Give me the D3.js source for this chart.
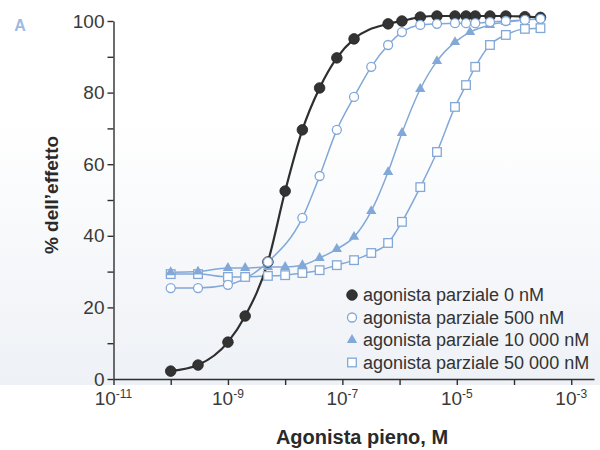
<!DOCTYPE html>
<html lang="it">
<head>
<meta charset="UTF-8">
<title>Agonista pieno e agonista parziale</title>
<style>
  body { margin: 0; background: #fff; }
  svg { display: block; font-family: "Liberation Sans", Arial, sans-serif; }
</style>
</head>
<body>
<div id="chart"></div>
<script src="https://cdn.jsdelivr.net/npm/d3@7"></script>
<script>

// concentrazione dell'agonista pieno (M) e % dell'effetto, una coppia di array per serie
const conc0 = [1e-10, 3e-10, 1e-9, 2e-9, 5e-9, 1e-8, 2e-8, 4e-8, 8e-8, 1.6e-7, 6.3e-7, 1.1e-6, 2.3e-6, 4.5e-6, 9.3e-6, 1.45e-5, 2.1e-5, 3.8e-5, 7.2e-5, 1.55e-4, 2.9e-4];
const eff0  = [2.2, 3.9, 10.3, 17.6, 32.7, 52.5, 69.6, 81.3, 89.7, 95, 99.2, 100, 101.1, 101.4, 101.4, 101.4, 101.4, 101.4, 101.4, 101.2, 101];

const conc500 = [1e-10, 3e-10, 1e-9, 5e-9, 2e-8, 4e-8, 8e-8, 1.6e-7, 3.2e-7, 6.3e-7, 1.1e-6, 2.3e-6, 4.5e-6, 9.3e-6, 1.45e-5, 2.1e-5, 3.8e-5, 7.2e-5, 1.55e-4, 2.9e-4];
const eff500  = [25.4, 25.4, 26.3, 32.7, 45, 56.7, 69.6, 78.8, 87.2, 93.3, 96.9, 98.9, 99.2, 99.4, 99.4, 99.4, 99.7, 100, 100.3, 100.6];

const conc10000 = [1e-10, 3e-10, 1e-9, 2e-9, 5e-9, 1e-8, 2e-8, 4e-8, 8e-8, 1.6e-7, 3.2e-7, 6.3e-7, 1.1e-6, 2.3e-6, 4.5e-6, 9.3e-6, 1.7e-5, 3.8e-5, 7.2e-5, 1.55e-4];
const eff10000  = [29.8, 30, 31, 31, 31.3, 31.3, 31.8, 33.8, 36.3, 39.7, 46.9, 57.8, 68.7, 81, 88.8, 94.1, 96.9, 98.9, 99.7, 100.3];

const conc50000 = [1e-10, 3e-10, 1e-9, 2e-9, 5e-9, 1e-8, 2e-8, 4e-8, 8e-8, 1.6e-7, 3.2e-7, 6.3e-7, 1.1e-6, 2.3e-6, 4.5e-6, 9.3e-6, 1.45e-5, 2.1e-5, 3.8e-5, 7.2e-5, 1.55e-4, 2.9e-4];
const eff50000  = [29.3, 29.3, 28.5, 28.5, 28.8, 29, 29.6, 30.4, 31.8, 33.2, 35.2, 38, 43.9, 53.6, 63.4, 76, 82.1, 87.2, 93.3, 96.1, 97.8, 98];

const xTicks = [1e-11, 1e-10, 1e-9, 1e-8, 1e-7, 1e-6, 1e-5, 1e-4, 1e-3];
const yTicks = [0, 10, 20, 30, 40, 50, 60, 70, 80, 90, 100];
const legendLabels = ["agonista parziale 0 nM", "agonista parziale 500 nM",
                      "agonista parziale 10 000 nM", "agonista parziale 50 000 nM"];

const W = 600, H = 450;
const dark = "#2f2f2f", blue = "#82a8d8";

const svg = d3.select("#chart").append("svg")
  .attr("width", W).attr("height", H);

// leggero fondo grigio-azzurro della scansione
const grad = svg.append("defs").append("linearGradient")
  .attr("id", "bg").attr("x1", 0).attr("y1", 0).attr("x2", 0).attr("y2", 1);
grad.append("stop").attr("offset", "0%").attr("stop-color", "#ffffff");
grad.append("stop").attr("offset", "100%").attr("stop-color", "#eef1f6");
svg.append("rect").attr("x", 0).attr("y", 120).attr("width", W).attr("height", 265)
  .attr("fill", "url(#bg)");

const x = d3.scaleLog().domain([1e-11, 2.5e-3]).range([113.5, 594]);
const y = d3.scaleLinear().domain([0, 100]).range([379, 21]);

// assi
const xAxis = svg.append("g")
  .attr("transform", `translate(0,${y(0)})`)
  .call(d3.axisBottom(x).tickValues(xTicks).tickSize(6).tickSizeOuter(0).tickFormat(""));
const yAxis = svg.append("g")
  .attr("transform", `translate(${x(1e-11)},0)`)
  .call(d3.axisLeft(y).tickValues(yTicks).tickSize(6).tickSizeOuter(0)
    .tickFormat(d => d % 20 === 0 ? d : ""));
svg.selectAll(".domain, .tick line").attr("stroke", dark).attr("stroke-width", 1.4);
yAxis.selectAll("text").attr("font-size", 19).attr("fill", "#3a3a3a").attr("x", -9);

// etichette 10^n sull'asse x (solo esponenti dispari)
xTicks.forEach(function(t) {
  const e = Math.round(Math.log10(t));
  if (e % 2 === 0) return;
  const lab = svg.append("text")
    .attr("x", x(t)).attr("y", 405)
    .attr("text-anchor", "middle").attr("fill", "#3a3a3a").attr("font-size", 19);
  lab.append("tspan").text("10");
  lab.append("tspan").attr("dy", -7).attr("font-size", 12).text("-" + Math.abs(e));
});

// titoli degli assi
svg.append("text")
  .attr("transform", "translate(58,195) rotate(-90)")
  .attr("text-anchor", "middle").attr("font-weight", "bold")
  .attr("font-size", 19).attr("fill", "#2a2a2a")
  .text("% dell\u2019effetto");
svg.append("text")
  .attr("x", 362).attr("y", 444)
  .attr("text-anchor", "middle").attr("font-weight", "bold")
  .attr("font-size", 20).attr("fill", "#2a2a2a")
  .text("Agonista pieno, M");
svg.append("text")
  .attr("x", 20).attr("y", 31)
  .attr("text-anchor", "middle").attr("font-weight", "bold")
  .attr("font-size", 16).attr("fill", "#9dbbe2")
  .text("A");

// serie
function pairs(c, v) { return c.map((d, i) => [d, v[i]]); }
const series = [
  {data: pairs(conc50000, eff50000), line: blue, w: 1.5, shape: "square"},
  {data: pairs(conc10000, eff10000), line: blue, w: 1.5, shape: "triangle"},
  {data: pairs(conc0, eff0), line: dark, w: 2.2, shape: "dot"},
  {data: pairs(conc500, eff500), line: blue, w: 1.5, shape: "circle"}
];

const line = d3.line()
  .x(d => x(d[0])).y(d => y(d[1]))
  .curve(d3.curveMonotoneX);

series.forEach(function(s) {
  svg.append("path")
    .datum(s.data)
    .attr("d", line)
    .attr("fill", "none")
    .attr("stroke", s.line)
    .attr("stroke-width", s.w);
});

function drawMarker(g, shape, cx, cy) {
  if (shape === "dot") {
    g.append("circle").attr("cx", cx).attr("cy", cy).attr("r", 5.3)
      .attr("fill", "#333").attr("stroke", "#222").attr("stroke-width", 0.8);
  } else if (shape === "circle") {
    g.append("circle").attr("cx", cx).attr("cy", cy).attr("r", 4.5)
      .attr("fill", "#fff").attr("stroke", blue).attr("stroke-width", 1.3);
  } else if (shape === "square") {
    g.append("rect").attr("x", cx - 4.3).attr("y", cy - 4.3)
      .attr("width", 8.6).attr("height", 8.6)
      .attr("fill", "#fff").attr("stroke", blue).attr("stroke-width", 1.3);
  } else {
    g.append("path")
      .attr("d", d3.symbol(d3.symbolTriangle, 46)())
      .attr("transform", `translate(${cx},${cy})`)
      .attr("fill", blue);
  }
}

series.forEach(function(s) {
  const g = svg.append("g");
  s.data.forEach(d => drawMarker(g, s.shape, x(d[0]), y(d[1])));
});

// legenda
const legShapes = ["dot", "circle", "triangle", "square"];
const leg = svg.append("g");
legendLabels.forEach(function(l, i) {
  const ly = 295 + i * 22.5;
  drawMarker(leg, legShapes[i], 352, ly);
  leg.append("text")
    .attr("x", 363).attr("y", ly).attr("dy", "0.35em")
    .attr("font-size", 18).attr("fill", "#333")
    .text(l);
});
</script>
</body>
</html>
